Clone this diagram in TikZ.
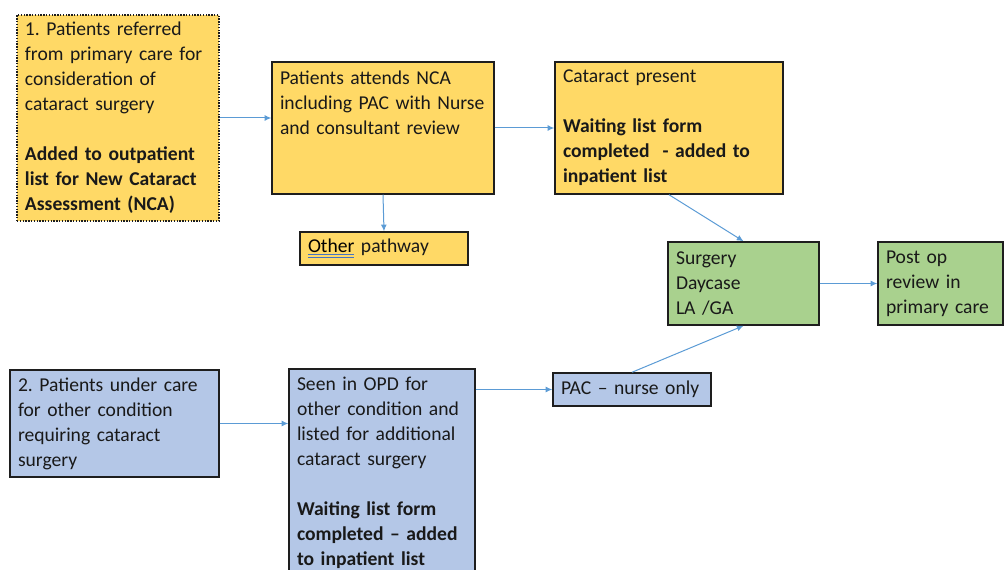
\documentclass[tikz,border=0pt]{standalone}
\usepackage{fontspec}
\setmainfont{Carlito}
\usetikzlibrary{arrows.meta}
\frenchspacing

\definecolor{boxyellow}{RGB}{255,217,102}
\definecolor{boxblue}{RGB}{180,199,231}
\definecolor{boxgreen}{RGB}{169,209,142}
\definecolor{arrowblue}{RGB}{91,155,213}
\definecolor{edgegrey}{RGB}{30,30,30}
\definecolor{spellblue}{RGB}{68,114,196}

\newcommand{\spellmark}[1]{{\color{spellblue}\underline{\underline{\color{black}#1}}}}

\tikzset{every picture/.style={line width=0.75pt}}
\tikzset{
  stepbox/.style={draw=edgegrey, line width=1.1pt, inner xsep=6pt, inner ysep=3pt,
    align=left, font=\fontsize{14.7}{18.75}\selectfont, text=black!90},
  flow/.style={draw=arrowblue, line width=0.75pt, -{Latex[length=5pt,width=4.5pt]}}
}

\begin{document}
\begin{tikzpicture}[x=0.75pt,y=0.75pt,yscale=-1,xscale=1]
\useasboundingbox (0,0) rectangle (1004,570);
\clip (0,0) rectangle (1004,570);

%Shape: Rectangle [referral]
\node (referral) [stepbox, fill=boxyellow, densely dotted, minimum width=151.5pt, minimum height=154.5pt, text width=139.5pt] at (118,118)
  {1. Patients referred\\ from primary care for\\ consideration of\\ cataract surgery\\[18.75pt]
   \textbf{Added to outpatient}\\ \textbf{list for New Cataract}\\ \textbf{Assessment (NCA)}};
%Shape: Rectangle [nca]
\node (nca) [stepbox, fill=boxyellow, minimum width=166.5pt, minimum height=99pt, text width=154.5pt] at (383,128)
  {Patients attends NCA\\ including PAC with Nurse\\ and consultant review\\ \mbox{}\\ \mbox{}};
%Shape: Rectangle [cataract]
\node (cataract) [stepbox, fill=boxyellow, minimum width=171pt, minimum height=99pt, text width=159pt] at (669,128)
  {Cataract present\\[18.75pt] \textbf{Waiting list form}\\ \textbf{completed\ \ - added to}\\ \textbf{inpatient list}};
%Shape: Rectangle [other]
\node (other) [stepbox, fill=boxyellow, minimum width=126pt, minimum height=24.75pt, text width=114pt] at (384,248.5)
  {\spellmark{Other} pathway};
%Shape: Rectangle [surgery]
\node (surgery) [stepbox, fill=boxgreen, minimum width=113.25pt, minimum height=62.25pt, text width=101.25pt] at (743.5,283.5)
  {Surgery\\ Daycase\\ LA /GA};
%Shape: Rectangle [postop]
\node (postop) [stepbox, fill=boxgreen, minimum width=93.75pt, minimum height=62.25pt, text width=81.75pt] at (940.5,283.5)
  {Post op\\ review in\\ primary care};
%Shape: Rectangle [undercare]
\node (undercare) [stepbox, fill=boxblue, minimum width=156.75pt, minimum height=80.25pt, text width=144.75pt] at (114.5,423.5)
  {2. Patients under care\\ for other condition\\ requiring cataract\\ surgery};
%Shape: Rectangle [opd]
\node (opd) [stepbox, fill=boxblue, minimum width=139.5pt, minimum height=155.25pt, text width=127.5pt] at (382,472.5)
  {Seen in OPD for\\ other condition and\\ listed for additional\\ cataract surgery\\[18.75pt]
   \textbf{Waiting list form}\\ \textbf{completed -- added}\\ \textbf{to inpatient list}};
%Shape: Rectangle [pac]
\node (pac) [stepbox, fill=boxblue, minimum width=118.5pt, minimum height=24.75pt, text width=106.5pt] at (632,389.5)
  {PAC -- nurse only};

%Straight Lines
\draw [flow] (referral.east) -- (referral.east -| nca.west);
\draw [flow] (nca.east) -- (cataract.west);
\draw [flow] (nca.south) -- (other.north);
\draw [flow] (cataract.south) -- (surgery.north);
\draw [flow] (surgery.east) -- (postop.west);
\draw [flow] (undercare.east) -- (undercare.east -| opd.west);
\draw [flow] (pac.west -| opd.east) -- (pac.west);
\draw [flow] (pac.north) -- (surgery.south);

\end{tikzpicture}
\end{document}
